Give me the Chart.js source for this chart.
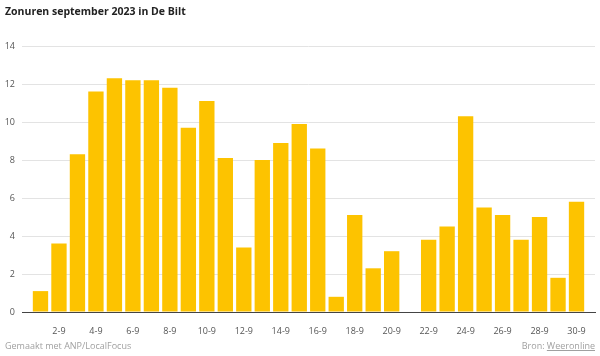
<!DOCTYPE html>
<html><head><meta charset="utf-8">
<script src="https://cdn.jsdelivr.net/npm/chart.js@4"></script>
<style>html,body{margin:0;padding:0;background:#fff}#wrap{width:600px;height:356px;position:relative}</style>
</head><body><div id="wrap"><canvas id="c"></canvas></div>
<script>
const title = 'Zonuren september 2023 in De Bilt';
const days = [1,2,3,4,5,6,7,8,9,10,11,12,13,14,15,16,17,18,19,20,21,22,23,24,25,26,27,28,29,30];
const sunHours = [1.1,3.6,8.3,11.6,12.3,12.2,12.2,11.8,9.7,11.1,8.1,3.4,8.0,8.9,9.9,8.6,0.8,5.1,2.3,3.2,null,3.8,4.5,10.3,5.5,5.1,3.8,5.0,1.8,5.8];
const monthSuffix = '-9';
const yTicks = [0,2,4,6,8,10,12,14];
const footerLeft = 'Gemaakt met ANP/LocalFocus';
const footerSourceLabel = 'Bron: ';
const footerSource = 'Weeronline';

const FONT = "'Open Sans', sans-serif";

const textPlugin = {
  id: 'texts',
  afterDraw(chart) {
    const ctx = chart.ctx;
    ctx.save();
    ctx.fillStyle = '#222';
    ctx.font = "bold 10.5px " + FONT;
    ctx.textBaseline = 'middle';
    ctx.textAlign = 'left';
    ctx.fillText(title, 5, 12.5);
    ctx.font = "9px " + FONT;
    ctx.fillStyle = '#a0a0a0';
    ctx.fillText(footerLeft, 5, 346);
    ctx.textAlign = 'right';
    const w = ctx.measureText(footerSource).width;
    ctx.fillText(footerSource, 595, 346);
    ctx.fillText(footerSourceLabel, 595 - w, 346);
    ctx.strokeStyle = '#a0a0a0';
    ctx.lineWidth = 1;
    ctx.beginPath();
    ctx.moveTo(595 - w, 350.5);
    ctx.lineTo(595, 350.5);
    ctx.stroke();
    ctx.restore();
  }
};

new Chart(document.getElementById('c'), {
  type: 'bar',
  data: {
    datasets: [{
      data: days.map((d, i) => ({x: d, y: sunHours[i]})),
      backgroundColor: '#fdc300',
      borderWidth: 0,
      barPercentage: 0.83,
      categoryPercentage: 1
    }]
  },
  options: {
    responsive: true,
    maintainAspectRatio: false,
    animation: false,
    events: [],
    layout: {padding: {left: 5, right: 5, top: 46, bottom: 0}},
    plugins: {legend: {display: false}, tooltip: {enabled: false}, title: {display: false}},
    scales: {
      x: {
        type: 'linear',
        offset: false,
        min: 0,
        max: 31,
        grid: {display: false},
        border: {display: true, color: '#444', width: 1},
        afterFit(s) { s.height = 44; },
        afterBuildTicks(s) { s.ticks = days.filter(d => d % 2 === 0).map(v => ({value: v})); },
        ticks: {
          autoSkip: false, maxRotation: 0, padding: 6,
          color: '#555', font: {family: FONT, size: 9},
          callback: v => v + monthSuffix
        }
      },
      y: {
        min: 0,
        max: 14,
        afterFit(s) { s.width = 17; },
        afterBuildTicks(s) { s.ticks = yTicks.map(v => ({value: v})); },
        grid: {color: '#e3e3e3', drawTicks: false, lineWidth: 1},
        border: {display: false},
        ticks: {padding: 7, color: '#555', font: {family: FONT, size: 9}}
      }
    }
  },
  plugins: [textPlugin]
});
</script>
</body></html>
